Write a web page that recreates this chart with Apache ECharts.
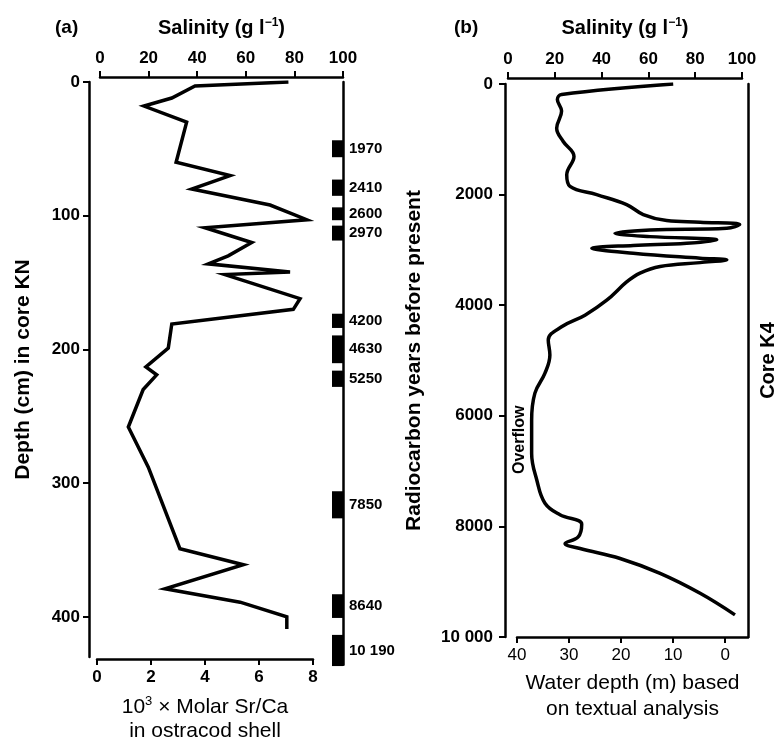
<!DOCTYPE html>
<html>
<head>
<meta charset="utf-8">
<script src="https://cdn.jsdelivr.net/npm/echarts@6/dist/echarts.min.js"></script>
<style>
  html, body { margin: 0; padding: 0; background: #fff; }
  #chart { width: 779px; height: 748px; }
</style>
</head>
<body>
<div id="chart"></div>
<script>
// (a) core KN: Sr/Ca in ostracod shells against depth
const srCa = [7.09, 3.63, 2.77, 1.74, 3.32, 2.93, 4.93, 3.51, 6.41, 7.77, 4.0, 5.73, 4.86, 4.12, 7.15, 4.74,
  7.52, 7.27, 2.77, 2.64, 1.81, 2.21, 1.71, 1.16, 1.9, 3.07, 5.42, 2.52, 5.3, 7.03, 7.03]
const depthCm = [0, 3, 12, 18, 30, 60, 70, 80, 92, 103, 109, 120, 130, 136, 142, 144,
  162, 170, 181, 199, 213, 219, 230, 258, 288, 349, 361, 379, 389, 400, 409]

// radiocarbon dated intervals in core KN
const dateLabels = ['1970', '2410', '2600', '2970', '4200', '4630', '5250', '7850', '8640', '10 190']
const dateTop = [43, 72, 92.5, 106, 171, 187, 213, 302, 378, 408]
const dateBottom = [55.5, 84, 102, 117, 181.5, 207.5, 225, 322, 395.5, 431]

const depthTicks = [0, 100, 200, 300, 400]

// (b) core K4: salinity against radiocarbon age
const salinityK4 = [70.6, 22.9, 21.1, 22.9, 20.8, 23.6, 28.2, 25.1, 26.5, 37.9, 50.7, 57.8, 67.8, 82.1, 99.0,
  93.5, 60.7, 45.7, 60.7, 89.2, 76.4, 53.5, 35.8, 53.5, 82.1, 93.5, 82.1, 65.0, 56.4, 50.7, 42.2,
  32.9, 22.9, 17.2, 17.9, 15.8, 11.5, 10.1, 10.1, 12.3, 15.8, 22.2, 31.5, 30.0, 24.4, 30.8, 47.9,
  65.0, 82.1, 97.0]
const yearsK4 = [0, 190, 280, 490, 800, 1040, 1310, 1640, 1850, 2000, 2180, 2360, 2470, 2500, 2540,
  2610, 2640, 2700, 2760, 2820, 2880, 2920, 2970, 3060, 3150, 3180, 3230, 3300, 3420, 3580, 3910,
  4180, 4390, 4630, 4900, 5230, 5590, 6080, 6680, 7160, 7580, 7790, 7960, 8190, 8310, 8400, 8580,
  8850, 9210, 9600]

const waterDepthTicks = [40, 30, 20, 10, 0]

const FONT = 'Liberation Sans, Arial, sans-serif'
const axisLine = { show: true, onZero: false, lineStyle: { color: '#000', width: 2.5 } }
const tick = { show: true, length: 6, lineStyle: { color: '#000', width: 2 } }
const tickLabel = { color: '#000', fontFamily: FONT, fontSize: 17, fontWeight: 'bold' }
const supRich = { sup: { fontFamily: FONT, fontSize: 12, fontWeight: 'bold', padding: [0, 0, 10, 0] } }

const chart = echarts.init(document.getElementById('chart'))

const option = {
  animation: false,
  grid: [
    { left: 97, top: 82, width: 216, height: 582.7 },   // (a) Sr/Ca
    { left: 100, top: 82, width: 243, height: 582.7 },  // (a) salinity
    { left: 517, top: 84, width: 233, height: 553 },    // (b) water depth
    { left: 508, top: 84, width: 234, height: 553 }     // (b) salinity
  ],
  xAxis: [
    {
      gridIndex: 0, type: 'value', position: 'bottom', offset: 2,
      min: 0, max: 8, interval: 2,
      axisLine, axisTick: tick, splitLine: { show: false },
      axisLabel: { ...tickLabel, margin: 10 },
      name: '10{sup|3} × Molar Sr/Ca\nin ostracod shell',
      nameLocation: 'middle', nameGap: 36,
      nameTextStyle: { color: '#000', fontFamily: FONT, fontSize: 21, lineHeight: 24,
        rich: { sup: { fontFamily: FONT, fontSize: 13, padding: [0, 0, 12, 0] } } }
    },
    {
      gridIndex: 1, type: 'value', position: 'top', offset: 5,
      min: 0, max: 100, interval: 20,
      axisLine, axisTick: tick, splitLine: { show: false },
      axisLabel: { ...tickLabel, margin: 10 },
      name: 'Salinity (g l{sup|−1})', nameLocation: 'middle', nameGap: 38,
      nameTextStyle: { color: '#000', fontFamily: FONT, fontSize: 20, fontWeight: 'bold', rich: supRich }
    },
    {
      gridIndex: 2, type: 'value', position: 'bottom', inverse: true,
      min: -4.4, max: 40,
      axisLine, splitLine: { show: false },
      axisTick: { ...tick, customValues: waterDepthTicks },
      axisLabel: { ...tickLabel, fontWeight: 'normal', margin: 10, customValues: waterDepthTicks },
      name: 'Water depth (m) based\non textual analysis',
      nameLocation: 'middle', nameGap: 33,
      nameTextStyle: { color: '#000', fontFamily: FONT, fontSize: 21, lineHeight: 26 }
    },
    {
      gridIndex: 3, type: 'value', position: 'top', offset: 6,
      min: 0, max: 100, interval: 20,
      axisLine, axisTick: tick, splitLine: { show: false },
      axisLabel: { ...tickLabel, margin: 10 },
      name: 'Salinity (g l{sup|−1})', nameLocation: 'middle', nameGap: 39,
      nameTextStyle: { color: '#000', fontFamily: FONT, fontSize: 20, fontWeight: 'bold', rich: supRich }
    }
  ],
  yAxis: [
    {
      gridIndex: 0, type: 'value', position: 'left', offset: 8, inverse: true,
      min: 0, max: 430,
      axisLine, splitLine: { show: false },
      axisTick: { ...tick, customValues: depthTicks },
      axisLabel: { ...tickLabel, margin: 9, customValues: depthTicks },
      name: 'Depth (cm) in core KN', nameLocation: 'middle', nameGap: 55, nameRotate: 90,
      nameTextStyle: { color: '#000', fontFamily: FONT, fontSize: 21, fontWeight: 'bold' }
    },
    {
      gridIndex: 1, type: 'value', position: 'right', inverse: true,
      min: 0, max: 430,
      axisLine, axisTick: { show: false }, axisLabel: { show: false }, splitLine: { show: false }
    },
    {
      gridIndex: 2, type: 'value', position: 'left', offset: 12, inverse: true,
      min: 0, max: 10000, interval: 2000,
      axisLine, axisTick: tick, splitLine: { show: false },
      axisLabel: { ...tickLabel, margin: 12, formatter: v => v >= 10000 ? '10 000' : String(v) },
      name: 'Radiocarbon years before present', nameLocation: 'middle', nameGap: 80, nameRotate: 90,
      nameTextStyle: { color: '#000', fontFamily: FONT, fontSize: 21, fontWeight: 'bold' }
    },
    {
      gridIndex: 2, type: 'value', position: 'right', inverse: true,
      min: 0, max: 10000,
      axisLine, axisTick: { show: false }, axisLabel: { show: false }, splitLine: { show: false },
      name: 'Core K4', nameLocation: 'middle', nameGap: 10, nameRotate: 90,
      nameTextStyle: { color: '#000', fontFamily: FONT, fontSize: 20, fontWeight: 'bold', verticalAlign: 'top' }
    },
    {
      gridIndex: 3, type: 'value', show: false, inverse: true, min: 0, max: 10000
    }
  ],
  graphic: [
    { type: 'text', left: 55, top: 18, style: { text: '(a)', fontFamily: FONT, fontSize: 19, fontWeight: 'bold', fill: '#000' } },
    { type: 'text', left: 454, top: 18, style: { text: '(b)', fontFamily: FONT, fontSize: 19, fontWeight: 'bold', fill: '#000' } },
    { type: 'text', x: 512, y: 474, rotation: Math.PI / 2,
      style: { text: 'Overflow', fontFamily: FONT, fontSize: 16, fontWeight: 'bold', fill: '#000' } }
  ],
  series: [
    {
      type: 'line', xAxisIndex: 0, yAxisIndex: 0,
      data: srCa.map((v, i) => [v, depthCm[i]]),
      showSymbol: false, symbol: 'none',
      lineStyle: { color: '#000', width: 3.5, join: 'miter' }
    },
    {
      type: 'custom', xAxisIndex: 1, yAxisIndex: 1, clip: false,
      data: dateLabels.map((d, i) => [100, dateTop[i], dateBottom[i]]),
      encode: { x: 0, y: [1, 2] },
      renderItem(params, api) {
        const top = api.coord([api.value(0), api.value(1)])
        const bot = api.coord([api.value(0), api.value(2)])
        return {
          type: 'group',
          children: [
            { type: 'rect', shape: { x: top[0] - 11, y: top[1], width: 11, height: bot[1] - top[1] },
              style: { fill: '#000' } },
            { type: 'text', x: top[0] + 6, y: (top[1] + bot[1]) / 2,
              style: { text: dateLabels[params.dataIndex], fontFamily: FONT, fontSize: 15, fontWeight: 'bold',
                fill: '#000', verticalAlign: 'middle', align: 'left' } }
          ]
        }
      }
    },
    {
      type: 'line', xAxisIndex: 3, yAxisIndex: 4,
      data: salinityK4.map((v, i) => [v, yearsK4[i]]),
      showSymbol: false, symbol: 'none', smooth: 0.4,
      lineStyle: { color: '#000', width: 3.5 }
    }
  ]
}

chart.setOption(option)
</script>
</body>
</html>
